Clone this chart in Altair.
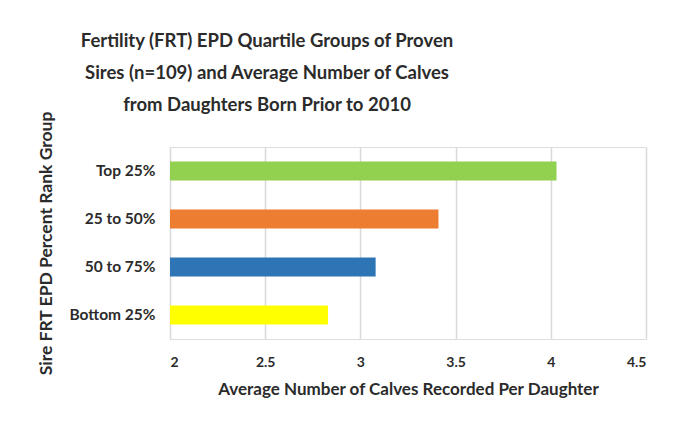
import altair as alt
import pandas as pd

groups = ["Top 25%", "25 to 50%", "50 to 75%", "Bottom 25%"]
calves = [4.03, 3.41, 3.08, 2.83]
colors = ["#92d050", "#ed7d31", "#2e75b6", "#ffff00"]
x_ticks = [2, 2.5, 3, 3.5, 4, 4.5]

df = pd.DataFrame({"group": groups, "calves": calves})

FONT = "Lato"
TXT = "#2b2b2b"

chart = alt.Chart(df).mark_bar().encode(
    x=alt.X("calves:Q",
            scale=alt.Scale(domain=[2, 4.5], zero=False, nice=False),
            axis=alt.Axis(values=x_ticks, format="~g",
                          title="Average Number of Calves Recorded Per Daughter",
                          grid=True, gridColor="#d9d9d9", gridWidth=1.5,
                          domain=False, ticks=False,
                          labelFont=FONT, labelFontSize=14, labelFontWeight="bold",
                          labelColor=TXT, labelPadding=16,
                          titleFont=FONT, titleFontSize=17, titleFontWeight="bold",
                          titleColor=TXT, titlePadding=12)),
    x2=alt.datum(2),
    y=alt.Y("group:N", sort=groups,
            scale=alt.Scale(paddingInner=0.6, paddingOuter=0.3),
            axis=alt.Axis(title="Sire  FRT EPD Percent Rank Group",
                          domain=False, ticks=False,
                          labelFont=FONT, labelFontSize=15.5, labelFontWeight="bold",
                          labelColor=TXT, labelPadding=15,
                          titleFont=FONT, titleFontSize=17.5, titleFontWeight="bold",
                          titleColor=TXT, titlePadding=13)),
    color=alt.Color("group:N", sort=groups,
                    scale=alt.Scale(domain=groups, range=colors), legend=None),
).properties(
    width=476,
    height=192,
    padding={"left": 29, "top": 24, "right": 10, "bottom": 5},
    title=alt.Title(
        ["Fertility (FRT) EPD Quartile Groups of Proven",
         "Sires (n=109) and Average Number of Calves",
         "from Daughters Born Prior to 2010"],
        font=FONT, fontSize=18.5, fontWeight="bold", color=TXT,
        lineHeight=32, anchor="middle", frame="group", dx=-141, offset=-6),
).configure_view(stroke=None).configure(background="white")

chart.save("out.html", embed_options={"renderer": "svg", "actions": False})
